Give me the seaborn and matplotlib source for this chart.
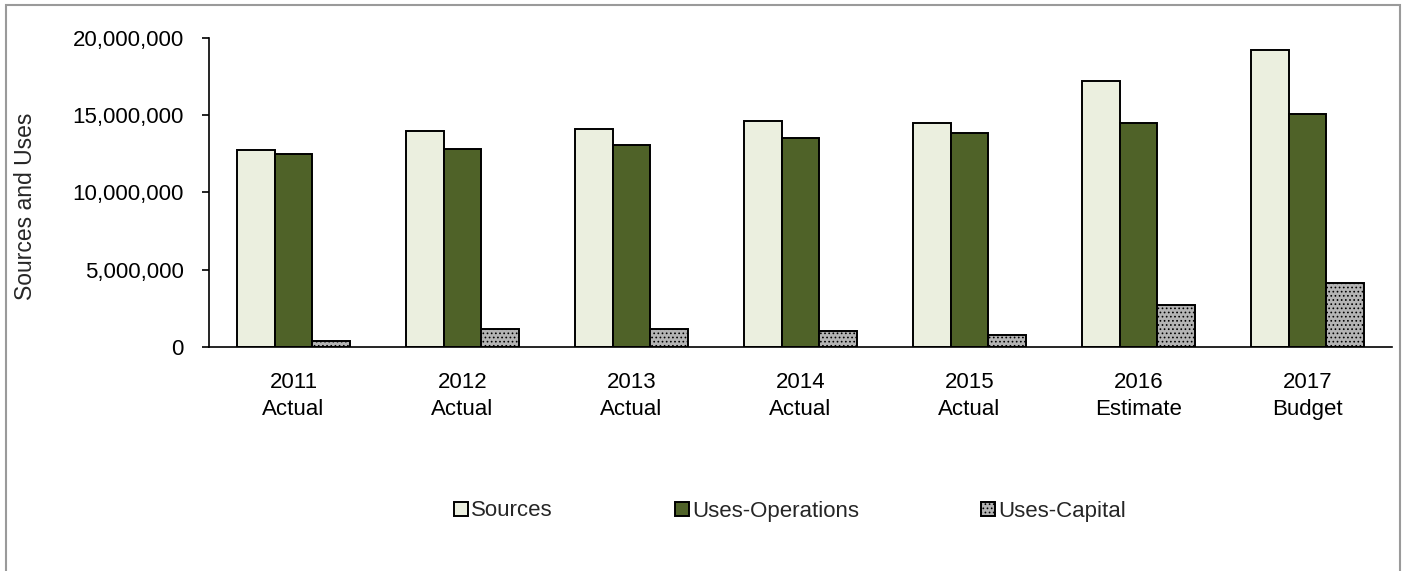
import numpy as np
import pandas as pd
import matplotlib
matplotlib.use("Agg")
import matplotlib.pyplot as plt
import seaborn as sns
from matplotlib.patches import Rectangle
from matplotlib.ticker import FuncFormatter

# --- data ---
categories = ["2011\nActual", "2012\nActual", "2013\nActual", "2014\nActual",
              "2015\nActual", "2016\nEstimate", "2017\nBudget"]
series = ["Sources", "Uses-Operations", "Uses-Capital"]
sources = [12750000, 13940000, 14070000, 14590000, 14460000, 17190000, 19220000]
uses_operations = [12500000, 12780000, 13040000, 13530000, 13830000, 14460000, 15080000]
uses_capital = [400000, 1150000, 1180000, 1050000, 780000, 2710000, 4140000]

colors = ["#EBEFDF", "#4F6228", "#B4B4B4"]

df = pd.DataFrame({
    "category": categories * 3,
    "series": [series[0]] * 7 + [series[1]] * 7 + [series[2]] * 7,
    "value": sources + uses_operations + uses_capital,
})

sns.set_theme(style="white")
plt.rcParams["font.family"] = ["Liberation Sans", "DejaVu Sans"]
plt.rcParams["hatch.linewidth"] = 0.7

fig = plt.figure(figsize=(14.06, 5.71), dpi=100)
ax = fig.add_axes([209 / 1406, 1 - 347 / 571, 1183 / 1406, (347 - 37.7) / 571])

sns.barplot(data=df, x="category", y="value", hue="series", hue_order=series,
            order=categories, palette=colors, width=0.667, saturation=1,
            edgecolor="black", linewidth=1.4, legend=False, ax=ax)

# granite-ish texture for capital bars
for patch in ax.containers[2]:
    patch.set_hatch("....")

ax.set_ylim(0, 20000000)
ax.set_yticks(np.arange(0, 20000001, 5000000))
ax.yaxis.set_major_formatter(FuncFormatter(lambda v, p: f"{int(v):,}"))
ax.set_xlabel("")
ax.set_ylabel("Sources and Uses", fontsize=16.5)
ax.yaxis.set_label_coords(-0.145, 0.454)

for side in ["top", "right"]:
    ax.spines[side].set_visible(False)
for side in ["left", "bottom"]:
    ax.spines[side].set_color("black")
    ax.spines[side].set_linewidth(1.2)

ax.tick_params(axis="y", which="major", left=True, length=5, width=1.2,
               direction="out", pad=13, labelsize=16, colors="black")
ax.tick_params(axis="x", bottom=False, pad=12, labelsize=16, colors="black")
for lbl in ax.get_xticklabels():
    lbl.set_linespacing(1.35)

ax.legend(handles=ax.containers, labels=series, loc="center",
          bbox_to_anchor=(790 / 1406, 1 - 511 / 571), bbox_transform=fig.transFigure,
          ncol=3, frameon=False, fontsize=16, handlelength=0.63, handleheight=0.6,
          handletextpad=0.13, columnspacing=5.5)

# light gray outer frame (open at the bottom)
fig.patches.append(Rectangle((6 / 1406, -0.05), (1400 - 6) / 1406, 1.05 - 5 / 571,
                             transform=fig.transFigure, fill=False,
                             edgecolor="#9A9A9A", linewidth=1.5))

fig.savefig("out.png", dpi=100)
